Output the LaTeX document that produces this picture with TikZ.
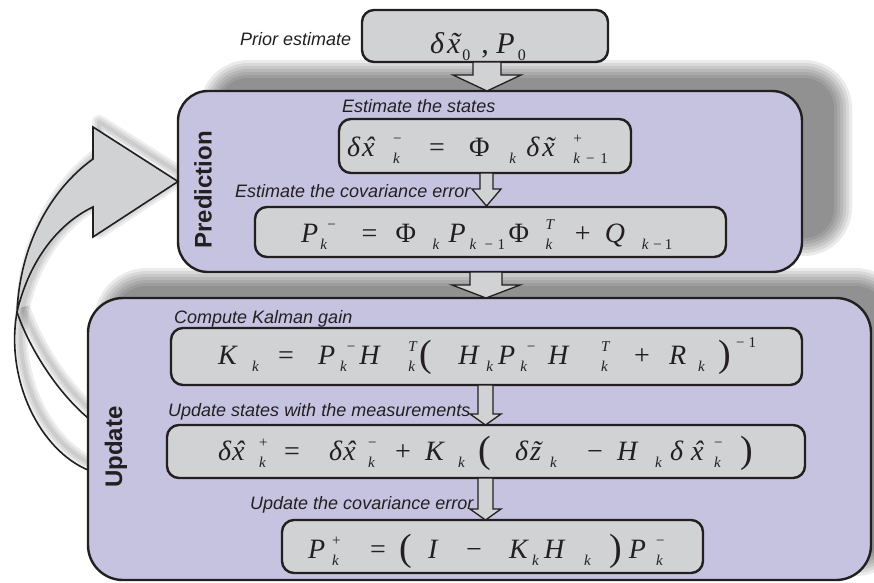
\documentclass[tikz,border=0pt]{standalone}
\usepackage{fontspec}
\setsansfont{Liberation Sans}
\newfontfamily\eqf{Liberation Serif}
\newcommand\hs[1]{\hskip#1pt\relax}
\newcommand\vv[1]{{\itshape #1}}
\newcommand\Sub[1]{\lower7pt\hbox{\fontsize{15}{15}\selectfont #1}}
\newcommand\Sup[1]{\raise13pt\hbox{\fontsize{15}{15}\selectfont #1}}
\newcommand\SupHi[1]{\raise17pt\hbox{\fontsize{15}{15}\selectfont #1}}
\newcommand\SupSub[2]{\hbox{\fontsize{15}{15}\selectfont\setbox1=\hbox{#1}\setbox2=\hbox{#2}\ifdim\wd1>\wd2 \dimen0=\wd1 \else \dimen0=\wd2 \fi\rlap{\raise13pt\box1}\rlap{\lower7pt\box2}\hskip\dimen0}}
\newcommand\hatx{\ooalign{\vv{x}\cr\hidewidth\kern2pt\vv{ˆ}\hidewidth\cr}}
\newcommand\tilx{\ooalign{\vv{x}\cr\hidewidth\kern2pt\vv{˜}\hidewidth\cr}}
\newcommand\tilz{\ooalign{\vv{z}\cr\hidewidth\kern2pt\vv{˜}\hidewidth\cr}}
\newcommand\lp{{\fontsize{38}{38}\selectfont\raisebox{-2pt}{(}}}
\newcommand\rp{{\fontsize{38}{38}\selectfont\raisebox{-2pt}{)}}}
\definecolor{panelfill}{RGB}{198,195,225}
\definecolor{boxfill}{RGB}{209,210,212}
\definecolor{ink}{RGB}{35,31,32}
\newcommand\softshadow[5]{%
  \foreach \e in {18,15,...,0}{\pgfmathsetmacro\rr{#5+\e}%
    \fill[black,opacity=0.08,rounded corners=\rr pt] (#1-\e,#2-\e) rectangle (#3+\e,#4+\e);}}
\tikzset{
  panel/.style={draw=ink,line width=2.4pt,fill=panelfill,inner sep=0pt,outer sep=0pt},
  eqbox/.style={draw=ink,line width=2.4pt,fill=boxfill,rounded corners=12pt,inner sep=0pt,outer sep=0pt},
  lbl/.style={font=\sffamily\itshape\fontsize{18}{20}\selectfont,anchor=base west,inner sep=0pt,text=ink},
  ttl/.style={font=\sffamily\bfseries\fontsize{24}{28}\selectfont,rotate=90,inner sep=0pt,text=ink},
  eq/.style={font=\eqf\fontsize{28}{32}\selectfont,anchor=base west,inner sep=0pt,text=ink},
  eqbig/.style={font=\eqf\fontsize{30}{34}\selectfont,anchor=base west,inner sep=0pt,text=ink},
  barrow/.style={draw=ink,line width=1.3pt,fill=boxfill,line join=miter},
  loopline/.style={draw=ink,line width=1.6pt},
}
\begin{document}
\begin{tikzpicture}[x=1pt,y=-1pt]
\useasboundingbox (0,0) rectangle (874,582);
% shadows of the panels
\softshadow{218}{78}{834}{238}{30}
\softshadow{112}{286}{890}{558}{35}
% shadow of the loop arrow
\begin{scope}[shift={(6,-5)}]
  \foreach \w in {14,9,4}{
    \draw[black,opacity=0.07,line width=\w pt,line join=round]
      (17,312) .. controls (20,245) and (50,190) .. (93,159) -- (93,127) -- (178,181) -- (93,237) -- (93,207) .. controls (55,225) and (28,265) .. (17,312);
    \draw[black,opacity=0.07,line width=\w pt]
      (17,312) .. controls (28,345) and (55,390) .. (88,418);
    \draw[black,opacity=0.07,line width=\w pt]
      (17,312) .. controls (5,380) and (40,450) .. (88,470);
  }
\end{scope}
% panels
\node[panel,rounded corners=30pt,minimum width=624pt,minimum height=181pt] (pred) at (490,181.5) {};
\node[panel,rounded corners=35pt,minimum width=783pt,minimum height=282pt] (upd) at (479.5,439) {};
% loop arrow
\filldraw[loopline,fill=boxfill,line join=miter]
  (17,312) .. controls (20,245) and (50,190) .. (93,159) -- (93,127) -- (pred.west) -- (93,237) -- (93,207) .. controls (55,225) and (28,265) .. (17,312) -- cycle;
\coordinate (ua) at (upd.west |- 0,418);
\coordinate (ub) at (upd.west |- 0,470);
\draw[loopline] (17,312) .. controls (28,345) and (55,390) .. (ua);
\draw[loopline] (17,312) .. controls (5,380) and (40,450) .. (ub);
% titles
\node[ttl] (tpred) at (203,190) {Prediction};
\node[ttl] (tupd) at (116,447) {Update};
% boxes
\node[eqbox,minimum width=246pt,minimum height=52pt] (b0) at (485,36) {};
\node[eqbox,minimum width=292pt,minimum height=54pt] (b1) at (485,146) {};
\node[eqbox,minimum width=471pt,minimum height=50pt] (b2) at (490.5,232) {};
\node[eqbox,minimum width=631pt,minimum height=57pt] (b3) at (486.5,356.5) {};
\node[eqbox,minimum width=638pt,minimum height=53pt] (b4) at (486,451.5) {};
\node[eqbox,minimum width=421pt,minimum height=53pt] (b5) at (492.5,546.5) {};
% block arrows
\filldraw[barrow] (473,62) -- (473,75) -- (453,75) -- (487,91) -- (521,75) -- (501,75) -- (501,62) -- cycle;
\filldraw[barrow] (470,272) -- (470,285) -- (452,285) -- (486,298) -- (520,285) -- (502,285) -- (502,272) -- cycle;
\filldraw[barrow] (480,173) -- (480,189) -- (472,189) -- (486.5,206) -- (501,189) -- (493,189) -- (493,173) -- cycle;
\filldraw[barrow] (478,385) -- (478,414) -- (470,414) -- (485.5,425) -- (501,414) -- (493,414) -- (493,385) -- cycle;
\filldraw[barrow] (478,478) -- (478,509) -- (470,509) -- (485.5,520) -- (501,509) -- (493,509) -- (493,478) -- cycle;
% labels
\node[lbl] (l0) at (240,45) {Prior estimate};
\node[lbl] (l1) at (342,112) {Estimate the states};
\node[lbl] (l2) at (235,197) {Estimate the covariance error};
\node[lbl] (l3) at (174,323) {Compute Kalman gain};
\node[lbl] (l4) at (168,416) {Update states with the measurements};
\node[lbl] (l5) at (250,509) {Update the covariance error};
% equations
\node[eqbig] (e0) at (430,53) {\vv{δ}\hs{3}\tilx\hs{2}\lower7pt\hbox{\fontsize{16}{16}\selectfont 0}\hs{11},\hs{7.5}\vv{P}\hs{3}\lower7pt\hbox{\fontsize{16}{16}\selectfont 0}};
\node[eq] (e1) at (347,156) {\vv{δ}\hs{2}\hatx\hs{18.6}\SupSub{−}{\vv{k}}\hs{27.5}=\hs{24.2}Φ\hs{19.7}\Sub{\vv{k}}\hs{10.3}\vv{δ}\hs{3}\tilx\hs{18.6}\SupSub{+}{\vv{k}\hs{6}−\hs{6}1}};
\node[eq] (e2) at (301,242) {\vv{P}\hs{2}\Sub{\vv{k}}\hs{0.3}\Sup{−}\hs{25.8}=\hs{18.2}Φ\hs{16.7}\Sub{\vv{k}}\hs{9.3}\vv{P}\hs{3.9}\Sub{\vv{k}\hs{8.3}−\hs{4.5}1}\hs{3.5}Φ\hs{16.7}\SupSub{\vv{T}}{\vv{k}}\hs{20.7}+\hs{14.2}\vv{Q}\hs{16.8}\Sub{\vv{k}\hs{5}−\hs{3}1}};
\node[eq] (e3) at (218,364) {\vv{K}\hs{15.3}\Sub{\vv{k}}\hs{19.3}=\hs{24.2}\vv{P}\hs{4.9}\Sub{\vv{k}}\Sup{−}\hs{4}\vv{H}\hs{28.8}\SupSub{\vv{T}}{\vv{k}}\hs{3}\lp\hs{26}\vv{H}\hs{7.8}\Sub{\vv{k}}\hs{5.3}\vv{P}\hs{4.9}\Sub{\vv{k}}\Sup{−}\hs{12.8}\vv{H}\hs{32.8}\SupSub{\vv{T}}{\vv{k}}\hs{24.7}+\hs{19.2}\vv{R}\hs{11.9}\Sub{\vv{k}}\hs{13.3}\rp\hs{5.3}\SupHi{−\hs{4}1}};
\node[eq] (e4) at (218,460) {\vv{δ}\hs{1}\hatx\hs{14.6}\SupSub{+}{\vv{k}}\hs{16.5}=\hs{29.2}\vv{δ}\hs{1}\hatx\hs{12.6}\SupSub{−}{\vv{k}}\hs{18.5}+\hs{14.2}\vv{K}\hs{14.3}\Sub{\vv{k}}\hs{13.3}\lp\hs{24.3}\vv{δ}\hs{2}\tilz\hs{9.1}\Sub{\vv{k}}\hs{30.3}−\hs{14.2}\vv{H}\hs{17.8}\Sub{\vv{k}}\hs{8.3}\vv{δ}\hs{8}\hatx\hs{10.6}\SupSub{−}{\vv{k}}\hs{18}\rp};
\node[eq] (e5) at (308,558) {\vv{P}\hs{6.9}\SupSub{+}{\vv{k}}\hs{29.5}=\hs{13.2}\lp\hs{16.3}\vv{I}\hs{28.7}−\hs{27.2}\vv{K}\hs{4.3}\Sub{\vv{k}}\hs{5.3}\vv{H}\hs{19.8}\Sub{\vv{k}}\hs{18.3}\rp\hs{7.3}\vv{P}\hs{9.9}\SupSub{−}{\vv{k}}};
\end{tikzpicture}
\end{document}
